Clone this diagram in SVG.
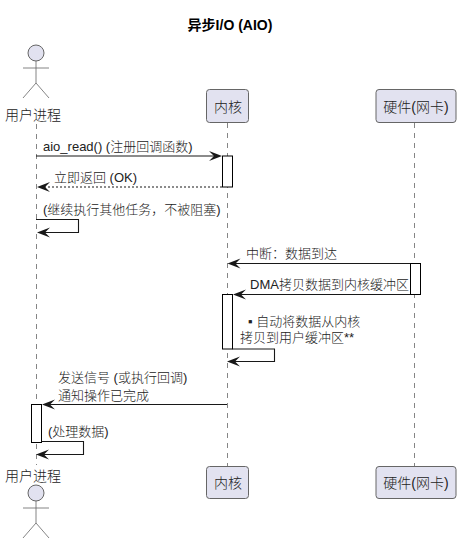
<svg xmlns="http://www.w3.org/2000/svg" width="460" height="549" viewBox="0 0 460 549">
<style>
text{font-family:"Liberation Sans","Noto Sans CJK SC",sans-serif;font-size:13px;fill:#222;font-weight:300}
.t{font-size:14px;font-weight:bold;fill:#000}
.a{font-size:14px}
.life{stroke:#666;stroke-width:.8;stroke-dasharray:5 5;fill:none}
.box{fill:#E2E2F0;stroke:#666;stroke-width:1}
.act{fill:#fff;stroke:#000;stroke-width:1}
.ln{stroke:#181818;stroke-width:1.1;fill:none}
.hd{fill:#181818;stroke:none}
.fig{fill:none;stroke:#666;stroke-width:.8}
.head{fill:#E2E2F0;stroke:#666;stroke-width:1}
</style>
<defs>
<g id="actor"><circle class="head" cx="0" cy="0" r="8"/><path class="fig" d="M0 8V30M-13 15H13M0 30L-13 45M0 30L13 45"/></g>
<path id="r" class="hd" d="M0 0L-13-5-8 0-13 5Z"/>
<path id="l" class="hd" d="M0 0L13-5 8 0 13 5Z"/>
</defs>
<text class="t" x="230" y="30" text-anchor="middle">异步I/O (AIO)</text>
<g id="lifelines">
<path class="life" d="M36.500 124V465"/>
<path class="life" d="M227.500 123V466"/>
<path class="life" d="M414.500 123V466"/>
</g>
<g id="node-user-top"><use href="#actor" x="36" y="53"/><text class="a" x="33" y="120" text-anchor="middle">用户进程</text></g>
<g id="node-kernel-top"><rect class="box" x="206.500" y="89.500" width="42" height="33" rx="3"/><text class="a" x="228" y="112" text-anchor="middle">内核</text></g>
<g id="node-hw-top"><rect class="box" x="376" y="89.500" width="80" height="33" rx="3"/><text class="a" x="416" y="112" text-anchor="middle">硬件(网卡)</text></g>
<g id="activations">
<rect class="act" x="222.500" y="156" width="10" height="31"/>
<rect class="act" x="410.500" y="263.500" width="10" height="31"/>
<rect class="act" x="222.500" y="294.500" width="10" height="54.500"/>
<rect class="act" x="31.500" y="404.500" width="10" height="38"/>
</g>
<g id="connectors">
<path class="ln" d="M36 156H215"/><use href="#r" x="222" y="156"/>
<path class="ln" stroke-dasharray="2 2" d="M222 187H42"/><use href="#l" x="37" y="187"/>
<path class="ln" d="M36 219.500H78.500V232.500H42"/><use href="#l" x="37" y="232.500"/>
<path class="ln" d="M410 263.500H233"/><use href="#l" x="227.500" y="263.500"/>
<path class="ln" d="M410 294.500H239"/><use href="#l" x="233" y="294.500"/>
<path class="ln" d="M232.500 349H274.500V361.500H233"/><use href="#l" x="227" y="361.500"/>
<path class="ln" d="M227 404.500H47"/><use href="#l" x="42" y="404.500"/>
<path class="ln" d="M41.500 441.500H83.500V454.500H42"/><use href="#l" x="36" y="454.500"/>
</g>
<g id="labels">
<text x="43" y="151">aio_read() (注册回调函数)</text>
<text x="54" y="182">立即返回 (OK)</text>
<text x="43" y="214">(继续执行其他任务，不被阻塞)</text>
<text x="246" y="258">中断：数据到达</text>
<text x="250" y="289">DMA拷贝数据到内核缓冲区</text>
<text x="248" y="326">▪ 自动将数据从内核</text>
<text x="240" y="342">拷贝到用户缓冲区**</text>
<text x="58" y="382">发送信号 (或执行回调)</text>
<text x="58" y="400">通知操作已完成</text>
<text x="48" y="436">(处理数据)</text>
</g>
<g id="node-user-bottom"><text class="a" x="33" y="481" text-anchor="middle">用户进程</text><use href="#actor" x="36" y="493"/></g>
<g id="node-kernel-bottom"><rect class="box" x="206.500" y="466.500" width="42" height="32" rx="3"/><text class="a" x="228" y="488" text-anchor="middle">内核</text></g>
<g id="node-hw-bottom"><rect class="box" x="376" y="466.500" width="80" height="32" rx="3"/><text class="a" x="416" y="488" text-anchor="middle">硬件(网卡)</text></g>
</svg>
